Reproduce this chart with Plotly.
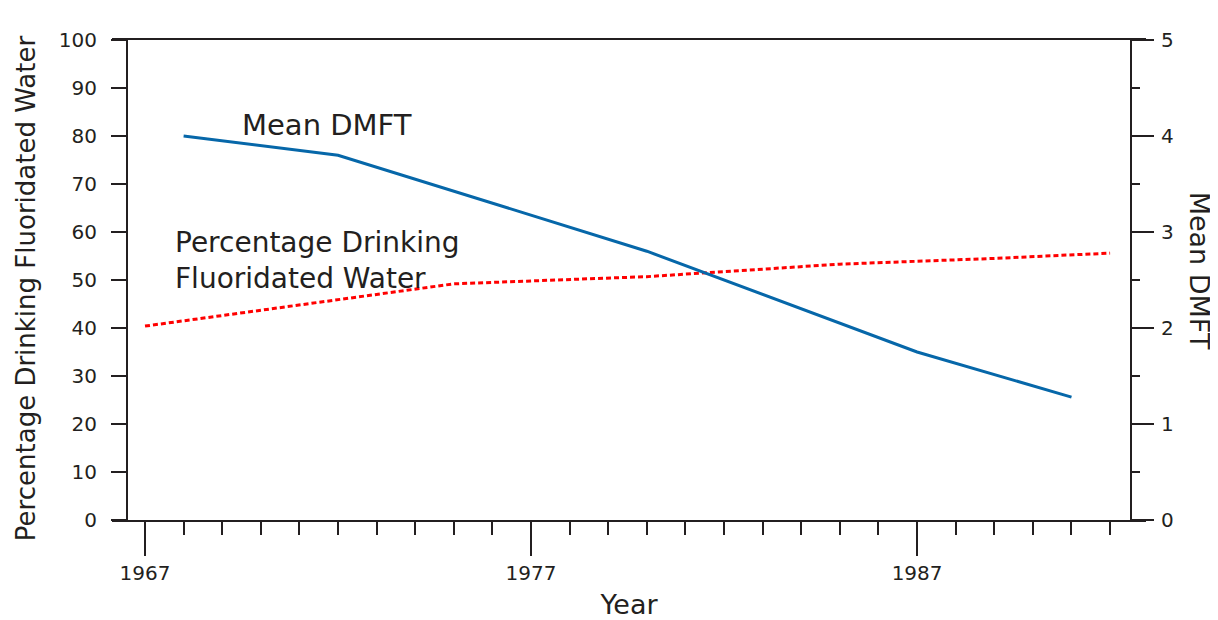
import plotly.graph_objects as go

# ---- data ----
years_dmft = [1968, 1972, 1980, 1987, 1991]
mean_dmft = [4.0, 3.8, 2.8, 1.75, 1.28]

years_fluor = [1967, 1975, 1980, 1985, 1988, 1989, 1992]
pct_fluor = [40.4, 49.2, 50.7, 53.3, 54.2, 54.5, 55.6]

x_major = [1967, 1977, 1987]
left_ticks = list(range(0, 101, 10))
right_ticks = [0, 1, 2, 3, 4, 5]

FONT = "DejaVu Sans, Verdana, sans-serif"
INK = "#231f20"

fig = go.Figure()
fig.add_trace(go.Scatter(
    x=years_fluor, y=pct_fluor, mode="lines", yaxis="y",
    line=dict(color="#ff0000", width=3, dash="5px,3px"),
    name="Percentage Drinking Fluoridated Water", showlegend=False))
fig.add_trace(go.Scatter(
    x=years_dmft, y=mean_dmft, mode="lines", yaxis="y2",
    line=dict(color="#0667a9", width=3),
    name="Mean DMFT", showlegend=False))

fig.update_layout(
    width=1210, height=612,
    margin=dict(l=104, r=72, t=32, b=100, autoexpand=False),
    paper_bgcolor="white", plot_bgcolor="white",
    font=dict(family=FONT, color=INK, size=20),
    xaxis=dict(
        range=[1966.145, 1992.93], showgrid=False, zeroline=False,
        automargin=False,
        showline=True, linecolor=INK, linewidth=2, mirror=True,
        ticks="outside", tickvals=x_major, ticktext=[str(v) for v in x_major],
        ticklen=34, tickwidth=2, tickcolor=INK,
        ticklabelstandoff=0,
        tickfont=dict(size=20),
        minor=dict(dtick=1, tick0=1967, ticks="outside", ticklen=13,
                   tickwidth=2, tickcolor=INK),
        title=dict(text="Year", font=dict(size=27), standoff=23),
    ),
    yaxis=dict(
        range=[0, 100], showgrid=False, zeroline=False,
        automargin=False,
        anchor="free", position=0.0145, side="left",
        showline=True, linecolor=INK, linewidth=2,
        ticks="outside", tickvals=left_ticks, ticklen=15, tickwidth=2,
        tickcolor=INK, ticklabelstandoff=10,
        tickfont=dict(size=20),
    ),
    yaxis2=dict(
        range=[0, 5], showgrid=False, zeroline=False,
        automargin=False,
        overlaying="y", anchor="free", position=0.9855, side="right",
        showline=True, linecolor=INK, linewidth=2,
        ticks="outside", tickvals=right_ticks, ticklen=22, tickwidth=2,
        tickcolor=INK, ticklabelstandoff=3,
        tickfont=dict(size=20),
        minor=dict(dtick=0.5, tick0=0, ticks="outside", ticklen=8,
                   tickwidth=2, tickcolor=INK),
    ),
    annotations=[
        dict(text="Mean DMFT", x=1969.46, y=82.3, xref="x", yref="y",
             xanchor="left", yanchor="middle", showarrow=False,
             font=dict(size=29, color=INK)),
        dict(text="Percentage Drinking<br>Fluoridated Water",
             x=1967.73, y=54.0, xref="x", yref="y", align="left",
             xanchor="left", yanchor="middle", showarrow=False,
             font=dict(size=28, color=INK)),
        dict(text="Percentage Drinking Fluoridated Water",
             x=-0.0832, y=0.483, xref="paper", yref="paper",
             textangle=-90, xanchor="center", yanchor="middle",
             showarrow=False, font=dict(size=26, color=INK)),
        dict(text="Mean DMFT", x=1.052, y=0.52, xref="paper", yref="paper",
             textangle=90, xanchor="center", yanchor="middle",
             showarrow=False, font=dict(size=27, color=INK)),
    ],
)

fig.write_html("out.html")
